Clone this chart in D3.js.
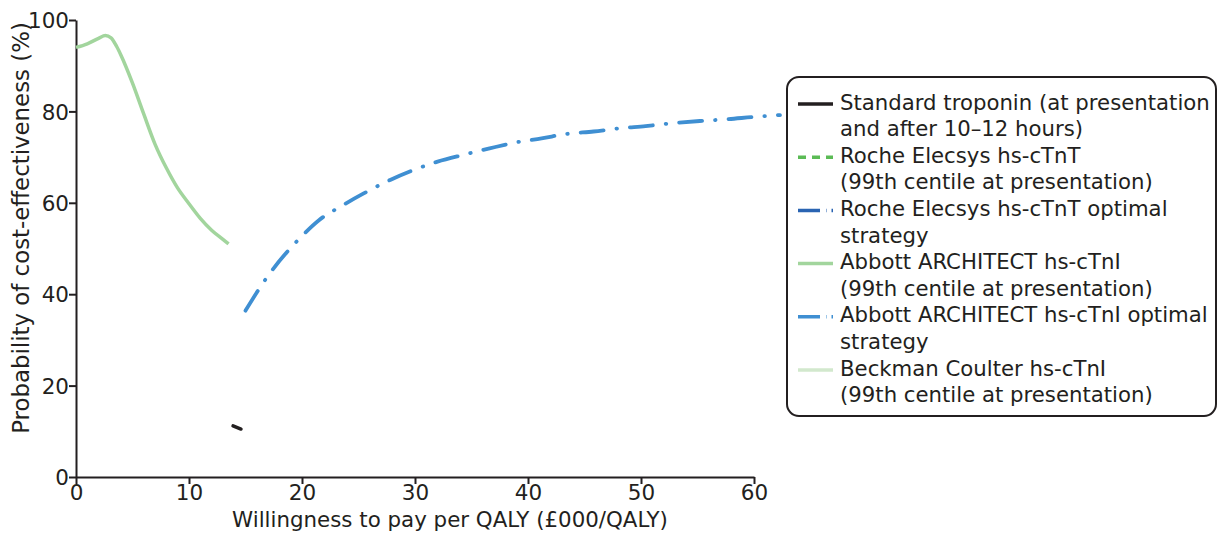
<!DOCTYPE html>
<html>
<head>
<meta charset="utf-8">
<script src="https://cdn.jsdelivr.net/npm/d3@7"></script>
<style>
  body { margin: 0; background: #fff; }
  text { font-family: "DejaVu Sans", "Open Sans", sans-serif; fill: #231f20; }
</style>
</head>
<body>
<div class="chart"></div>
<script>
// data (x = £000/QALY, y = %)
var wtpStandard = [13.9, 14.6];
var probStandard = [11.2, 10.5];

var wtpAbbott99 = [0, 1, 2, 2.6, 3.1, 3.6, 4, 5, 6, 7, 8, 9, 10, 11, 12, 13, 13.5];
var probAbbott99 = [94.0, 94.8, 96.0, 96.6, 96.1, 94.2, 92.2, 86.2, 79.4, 72.8, 67.6, 63.2, 59.8, 56.6, 54.0, 52.0, 51.0];

var wtpAbbottOpt = [15.0, 16.9, 19.9, 21.5, 23.5, 25.5, 27.8, 29.7, 32.0, 34.3, 36.6, 38.9, 41.2, 43.5, 45.8, 48.1, 50.4, 52.7, 55.2, 57.7, 60.0, 62.3];
var probAbbottOpt = [36.4, 43.7, 52.5, 56.2, 59.3, 62.1, 65.0, 67.0, 69.0, 70.5, 71.9, 73.2, 74.1, 75.1, 75.6, 76.3, 76.8, 77.4, 77.9, 78.3, 78.8, 79.2];

var xTicks = [0, 10, 20, 30, 40, 50, 60];
var yTicks = [0, 20, 40, 60, 80, 100];

var legendLabels = [
  ["Standard troponin (at presentation", "and after 10\u201312 hours)"],
  ["Roche Elecsys hs-cTnT", "(99th centile at presentation)"],
  ["Roche Elecsys hs-cTnT optimal", "strategy"],
  ["Abbott ARCHITECT hs-cTnI", "(99th centile at presentation)"],
  ["Abbott ARCHITECT hs-cTnI optimal", "strategy"],
  ["Beckman Coulter hs-cTnI", "(99th centile at presentation)"]
];
var legendColors = ["#231f20", "#5bbb55", "#2a64b2", "#a2d59d", "#3f8fd2", "#d2e8cd"];
var legendDash = ["none", "8,6", "22,6,0.5,5", "none", "22,6,0.5,5", "none"];

var svgWidth = 1221;
var svgHeight = 535;
var margin = { top: 20, right: 467, bottom: 58, left: 76 };
var width = svgWidth - margin.left - margin.right;
var height = svgHeight - margin.top - margin.bottom;

var svg = d3.select(".chart")
    .append("svg")
    .attr("width", svgWidth)
    .attr("height", svgHeight);

var chartGroup = svg.append("g")
    .attr("transform", `translate(${margin.left}, ${margin.top})`);

var xScale = d3.scaleLinear().domain([0, 60]).range([0, width]);
var yScale = d3.scaleLinear().domain([0, 100]).range([height, 0]);

// axes
var bottomAxis = d3.axisBottom(xScale).tickValues(xTicks).tickSize(7).tickSizeOuter(0);
var leftAxis = d3.axisLeft(yScale).tickValues(yTicks).tickSize(7).tickSizeOuter(0);

var xAxis = chartGroup.append("g")
    .attr("transform", `translate(0, ${height})`)
    .call(bottomAxis);
var yAxis = chartGroup.append("g").call(leftAxis);

[xAxis, yAxis].forEach(function(ax) {
  ax.attr("font-family", null).attr("font-size", null);
  ax.select(".domain").attr("stroke", "#231f20").attr("stroke-width", 2);
  ax.selectAll(".tick line").attr("stroke", "#231f20").attr("stroke-width", 2);
  ax.selectAll(".tick text")
    .attr("font-size", 21.5)
    .attr("fill", "#231f20");
});
xAxis.selectAll(".tick text").attr("dy", "0.72em").attr("y", 8);
yAxis.selectAll(".tick text").attr("x", -7).attr("dy", "0.36em");

// axis titles
var xTitle = chartGroup.append("text")
    .attr("x", 374)
    .attr("y", height + 50)
    .attr("text-anchor", "middle")
    .attr("font-size", 20)
    .text("Willingness to pay per QALY (\u00a3000/QALY)");

var yTitle = chartGroup.append("text")
    .attr("transform", `translate(${-margin.left + 29}, 208) rotate(-90)`)
    .attr("text-anchor", "middle")
    .attr("font-size", 20)
    .text("Probability of cost-effectiveness (%)");

// stretch title sizes to the widths seen in the picture
function fitText(sel, target, maxSize) {
  var w = sel.node().getComputedTextLength();
  var fs = +sel.attr("font-size");
  sel.attr("font-size", Math.min(maxSize, fs * target / w));
}
fitText(xTitle, 436, 23);
fitText(yTitle, 412, 23);

// lines
var line = d3.line()
    .x(d => xScale(d[0]))
    .y(d => yScale(d[1]))
    .curve(d3.curveMonotoneX);

function pairs(xs, ys) {
  return xs.map((x, i) => [x, ys[i]]);
}

chartGroup.append("path")
    .datum(pairs(wtpAbbott99, probAbbott99))
    .attr("d", line)
    .attr("fill", "none")
    .attr("stroke", legendColors[3])
    .attr("stroke-width", 3.5)
    .attr("stroke-linejoin", "round");

chartGroup.append("path")
    .datum(pairs(wtpAbbottOpt, probAbbottOpt))
    .attr("d", line)
    .attr("fill", "none")
    .attr("stroke", legendColors[4])
    .attr("stroke-width", 3.8)
    .attr("stroke-linecap", "round")
    .attr("stroke-dasharray", "23,13,0.5,13");

chartGroup.append("path")
    .datum(pairs(wtpStandard, probStandard))
    .attr("d", line)
    .attr("fill", "none")
    .attr("stroke", legendColors[0])
    .attr("stroke-width", 3.5)
    .attr("stroke-linecap", "round");

// legend
var legend = svg.append("g").attr("transform", "translate(787, 77)");
legend.append("rect")
    .attr("width", 429)
    .attr("height", 339)
    .attr("rx", 12)
    .attr("fill", "#fff")
    .attr("stroke", "#231f20")
    .attr("stroke-width", 2);

var rowH = 26.6;
var legendTexts = [];
legendLabels.forEach(function(lab, i) {
  var y0 = 25 + i * 2 * rowH;
  legend.append("line")
      .attr("x1", 11).attr("x2", 46)
      .attr("y1", y0 + 2).attr("y2", y0 + 2)
      .attr("stroke", legendColors[i])
      .attr("stroke-width", 3.5)
      .attr("stroke-dasharray", legendDash[i]);
  lab.forEach(function(t, j) {
    legendTexts.push(legend.append("text")
        .attr("x", 53)
        .attr("y", y0 + j * rowH + 7.5)
        .attr("font-size", 20)
        .text(t));
  });
});
// first line is the widest; size all rows from it
var w0 = legendTexts[0].node().getComputedTextLength();
var legendSize = Math.min(22, 20 * 370 / w0);
legendTexts.forEach(t => t.attr("font-size", legendSize));
</script>
</body>
</html>
